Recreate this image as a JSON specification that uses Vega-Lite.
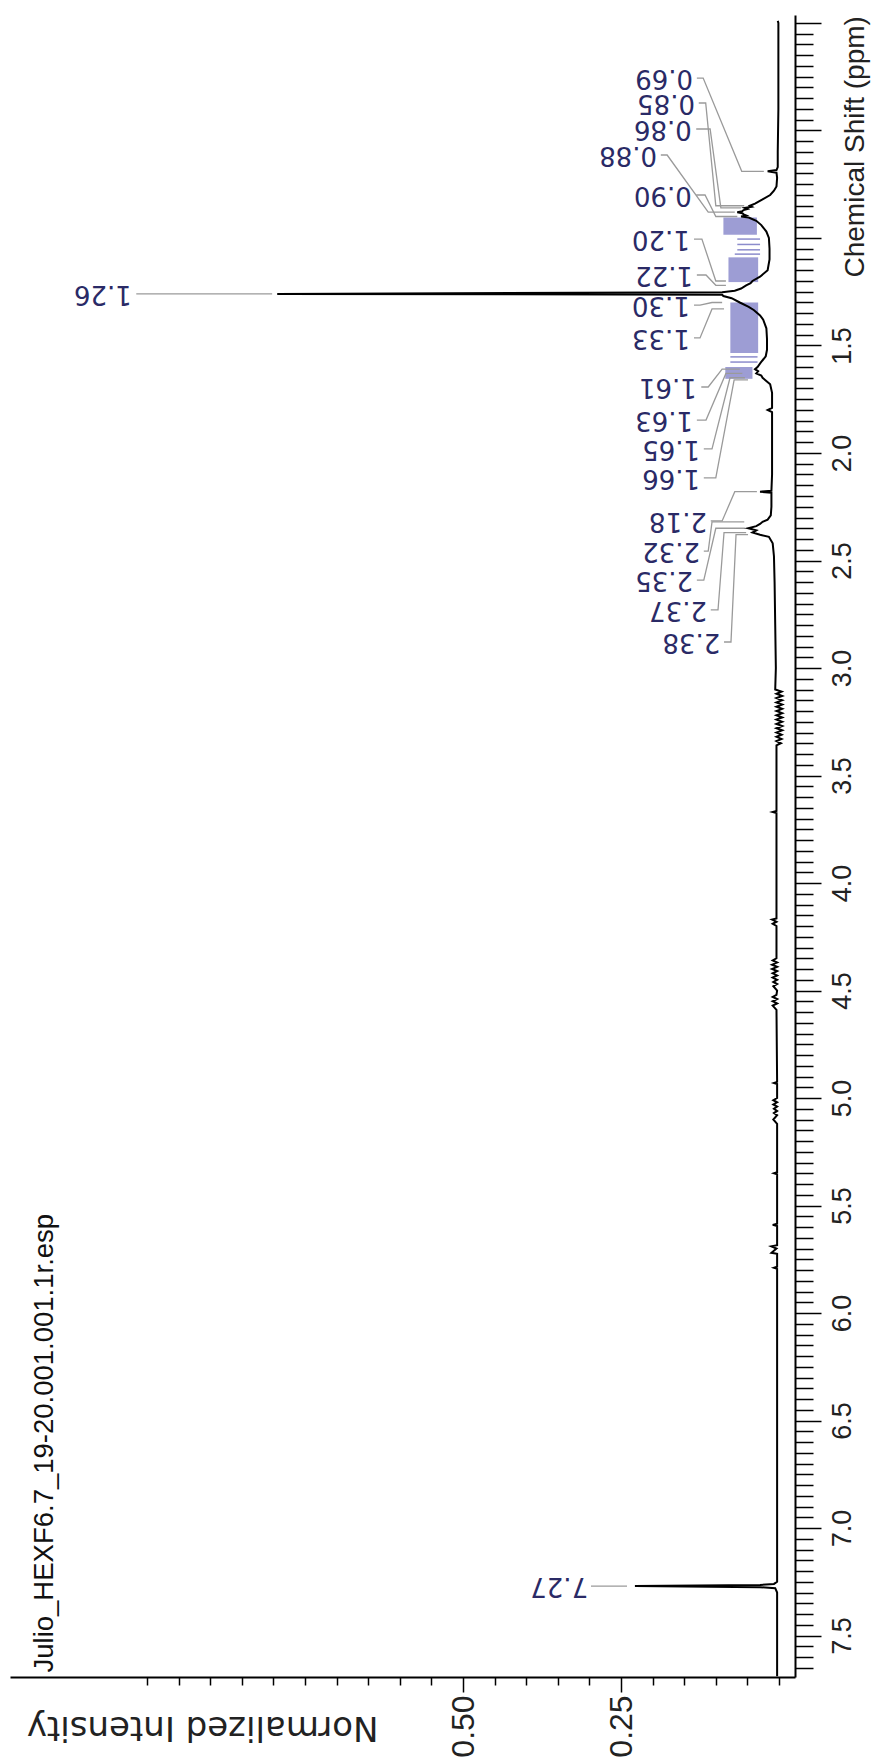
{
  "$schema": "https://vega.github.io/schema/vega-lite/v6.json",
  "width": 785,
  "height": 1662,
  "autosize": {"type": "none"},
  "padding": {"left": 10, "top": 15, "right": 77, "bottom": 83},
  "background": "white",
  "config": {"view": {"stroke": null}, "axis": {"grid": false}},
  "datasets": {
    "spectrum": [
      {"shift": -0.01, "intensity": 0.002}, {"shift": 0.0, "intensity": 0.001}, {"shift": 0.2, "intensity": 0.001},
      {"shift": 0.4, "intensity": 0.001}, {"shift": 0.6, "intensity": 0.002}, {"shift": 0.67, "intensity": 0.002},
      {"shift": 0.684, "intensity": 0.004}, {"shift": 0.69, "intensity": 0.018}, {"shift": 0.696, "intensity": 0.004},
      {"shift": 0.72, "intensity": 0.003}, {"shift": 0.76, "intensity": 0.004}, {"shift": 0.78, "intensity": 0.008},
      {"shift": 0.8, "intensity": 0.014}, {"shift": 0.82, "intensity": 0.026}, {"shift": 0.84, "intensity": 0.038},
      {"shift": 0.85, "intensity": 0.046}, {"shift": 0.855, "intensity": 0.043}, {"shift": 0.86, "intensity": 0.054},
      {"shift": 0.865, "intensity": 0.05}, {"shift": 0.87, "intensity": 0.056}, {"shift": 0.875, "intensity": 0.058},
      {"shift": 0.88, "intensity": 0.066}, {"shift": 0.885, "intensity": 0.058}, {"shift": 0.89, "intensity": 0.056},
      {"shift": 0.895, "intensity": 0.052}, {"shift": 0.9, "intensity": 0.06}, {"shift": 0.905, "intensity": 0.048},
      {"shift": 0.92, "intensity": 0.036}, {"shift": 0.94, "intensity": 0.028}, {"shift": 0.97, "intensity": 0.02},
      {"shift": 1.0, "intensity": 0.016}, {"shift": 1.05, "intensity": 0.015}, {"shift": 1.1, "intensity": 0.015},
      {"shift": 1.15, "intensity": 0.018}, {"shift": 1.18, "intensity": 0.03}, {"shift": 1.2, "intensity": 0.042},
      {"shift": 1.21, "intensity": 0.045}, {"shift": 1.22, "intensity": 0.052}, {"shift": 1.235, "intensity": 0.06},
      {"shift": 1.245, "intensity": 0.07}, {"shift": 1.252, "intensity": 0.09}, {"shift": 1.26, "intensity": 0.794},
      {"shift": 1.264, "intensity": 0.09}, {"shift": 1.27, "intensity": 0.088}, {"shift": 1.28, "intensity": 0.075},
      {"shift": 1.3, "intensity": 0.062}, {"shift": 1.32, "intensity": 0.048}, {"shift": 1.335, "intensity": 0.04},
      {"shift": 1.36, "intensity": 0.03}, {"shift": 1.38, "intensity": 0.025}, {"shift": 1.42, "intensity": 0.02},
      {"shift": 1.47, "intensity": 0.019}, {"shift": 1.52, "intensity": 0.019}, {"shift": 1.55, "intensity": 0.021},
      {"shift": 1.58, "intensity": 0.029}, {"shift": 1.6, "intensity": 0.034}, {"shift": 1.61, "intensity": 0.038},
      {"shift": 1.62, "intensity": 0.033}, {"shift": 1.63, "intensity": 0.036}, {"shift": 1.64, "intensity": 0.028},
      {"shift": 1.65, "intensity": 0.026}, {"shift": 1.66, "intensity": 0.022}, {"shift": 1.68, "intensity": 0.014},
      {"shift": 1.72, "intensity": 0.011}, {"shift": 1.79, "intensity": 0.011}, {"shift": 1.8, "intensity": 0.018},
      {"shift": 1.81, "intensity": 0.011}, {"shift": 1.9, "intensity": 0.011}, {"shift": 2.0, "intensity": 0.011},
      {"shift": 2.1, "intensity": 0.011}, {"shift": 2.175, "intensity": 0.012}, {"shift": 2.18, "intensity": 0.03},
      {"shift": 2.185, "intensity": 0.012}, {"shift": 2.25, "intensity": 0.012}, {"shift": 2.29, "intensity": 0.013},
      {"shift": 2.31, "intensity": 0.018}, {"shift": 2.32, "intensity": 0.026}, {"shift": 2.33, "intensity": 0.03},
      {"shift": 2.34, "intensity": 0.036}, {"shift": 2.35, "intensity": 0.049}, {"shift": 2.36, "intensity": 0.036},
      {"shift": 2.37, "intensity": 0.042}, {"shift": 2.38, "intensity": 0.03}, {"shift": 2.39, "intensity": 0.016},
      {"shift": 2.42, "intensity": 0.01}, {"shift": 2.48, "intensity": 0.008}, {"shift": 2.6, "intensity": 0.007},
      {"shift": 2.8, "intensity": 0.006}, {"shift": 3.0, "intensity": 0.005}, {"shift": 3.1, "intensity": 0.006},
      {"shift": 3.11, "intensity": -0.004}, {"shift": 3.12, "intensity": 0.004}, {"shift": 3.13, "intensity": -0.005},
      {"shift": 3.14, "intensity": 0.004}, {"shift": 3.15, "intensity": -0.005}, {"shift": 3.16, "intensity": 0.004},
      {"shift": 3.17, "intensity": -0.005}, {"shift": 3.18, "intensity": 0.004}, {"shift": 3.19, "intensity": -0.005},
      {"shift": 3.2, "intensity": 0.004}, {"shift": 3.21, "intensity": -0.005}, {"shift": 3.22, "intensity": 0.004},
      {"shift": 3.23, "intensity": -0.005}, {"shift": 3.24, "intensity": 0.004}, {"shift": 3.25, "intensity": -0.005},
      {"shift": 3.26, "intensity": 0.004}, {"shift": 3.27, "intensity": -0.005}, {"shift": 3.28, "intensity": 0.004},
      {"shift": 3.29, "intensity": -0.005}, {"shift": 3.3, "intensity": 0.004}, {"shift": 3.31, "intensity": -0.004},
      {"shift": 3.32, "intensity": 0.004}, {"shift": 3.33, "intensity": -0.004}, {"shift": 3.34, "intensity": 0.004},
      {"shift": 3.35, "intensity": -0.003}, {"shift": 3.36, "intensity": 0.004}, {"shift": 3.6, "intensity": 0.004},
      {"shift": 3.665, "intensity": 0.004}, {"shift": 3.67, "intensity": 0.01}, {"shift": 3.675, "intensity": 0.004},
      {"shift": 4.165, "intensity": 0.004}, {"shift": 4.17, "intensity": 0.011}, {"shift": 4.18, "intensity": 0.004},
      {"shift": 4.19, "intensity": 0.01}, {"shift": 4.2, "intensity": 0.004}, {"shift": 4.35, "intensity": 0.004},
      {"shift": 4.36, "intensity": 0.01}, {"shift": 4.37, "intensity": 0.003}, {"shift": 4.38, "intensity": 0.011},
      {"shift": 4.39, "intensity": 0.003}, {"shift": 4.4, "intensity": 0.011}, {"shift": 4.41, "intensity": 0.003},
      {"shift": 4.42, "intensity": 0.01}, {"shift": 4.43, "intensity": 0.003}, {"shift": 4.44, "intensity": 0.01},
      {"shift": 4.45, "intensity": 0.003}, {"shift": 4.46, "intensity": 0.009}, {"shift": 4.47, "intensity": 0.003},
      {"shift": 4.48, "intensity": 0.009}, {"shift": 4.5, "intensity": 0.003}, {"shift": 4.52, "intensity": 0.004},
      {"shift": 4.53, "intensity": 0.01}, {"shift": 4.54, "intensity": 0.003}, {"shift": 4.55, "intensity": 0.01},
      {"shift": 4.56, "intensity": 0.003}, {"shift": 4.57, "intensity": 0.01}, {"shift": 4.59, "intensity": 0.004},
      {"shift": 4.925, "intensity": 0.003}, {"shift": 4.93, "intensity": 0.008}, {"shift": 4.935, "intensity": 0.003},
      {"shift": 5.0, "intensity": 0.003}, {"shift": 5.01, "intensity": 0.009}, {"shift": 5.02, "intensity": 0.003},
      {"shift": 5.03, "intensity": 0.009}, {"shift": 5.04, "intensity": 0.003}, {"shift": 5.05, "intensity": 0.008},
      {"shift": 5.06, "intensity": 0.003}, {"shift": 5.07, "intensity": 0.008}, {"shift": 5.08, "intensity": 0.003},
      {"shift": 5.1, "intensity": 0.009}, {"shift": 5.12, "intensity": 0.003}, {"shift": 5.345, "intensity": 0.003},
      {"shift": 5.35, "intensity": 0.008}, {"shift": 5.355, "intensity": 0.003}, {"shift": 5.585, "intensity": 0.003},
      {"shift": 5.59, "intensity": 0.01}, {"shift": 5.595, "intensity": 0.003}, {"shift": 5.685, "intensity": 0.003},
      {"shift": 5.69, "intensity": 0.012}, {"shift": 5.7, "intensity": 0.004}, {"shift": 5.72, "intensity": 0.012},
      {"shift": 5.725, "intensity": 0.003}, {"shift": 5.785, "intensity": 0.003}, {"shift": 5.79, "intensity": 0.008},
      {"shift": 5.795, "intensity": 0.003}, {"shift": 6.5, "intensity": 0.003}, {"shift": 7.25, "intensity": 0.003},
      {"shift": 7.26, "intensity": 0.008}, {"shift": 7.265, "intensity": 0.03}, {"shift": 7.27, "intensity": 0.228},
      {"shift": 7.275, "intensity": 0.03}, {"shift": 7.28, "intensity": 0.006}, {"shift": 7.3, "intensity": 0.003},
      {"shift": 7.69, "intensity": 0.003}
    ],
    "peaks": [
      {"peak": "0.69", "shift": 0.256, "intensity": 0.136},
      {"peak": "0.85", "shift": 0.372, "intensity": 0.133},
      {"peak": "0.86", "shift": 0.493, "intensity": 0.138},
      {"peak": "0.88", "shift": 0.614, "intensity": 0.193},
      {"peak": "0.90", "shift": 0.8, "intensity": 0.138},
      {"peak": "1.20", "shift": 1.005, "intensity": 0.141},
      {"peak": "1.22", "shift": 1.172, "intensity": 0.136},
      {"peak": "1.26", "shift": 1.26, "intensity": 1.024},
      {"peak": "1.30", "shift": 1.312, "intensity": 0.141},
      {"peak": "1.33", "shift": 1.465, "intensity": 0.141},
      {"peak": "1.61", "shift": 1.693, "intensity": 0.13},
      {"peak": "1.63", "shift": 1.847, "intensity": 0.136},
      {"peak": "1.65", "shift": 1.981, "intensity": 0.125},
      {"peak": "1.66", "shift": 2.116, "intensity": 0.125},
      {"peak": "2.18", "shift": 2.316, "intensity": 0.114},
      {"peak": "2.32", "shift": 2.456, "intensity": 0.125},
      {"peak": "2.35", "shift": 2.591, "intensity": 0.136},
      {"peak": "2.37", "shift": 2.73, "intensity": 0.114},
      {"peak": "2.38", "shift": 2.879, "intensity": 0.093},
      {"peak": "7.27", "shift": 7.27, "intensity": 0.302}
    ],
    "leaders": [
      {"peak": "0.69", "step": 1, "shift": 0.256, "intensity": 0.13},
      {"peak": "0.69", "step": 2, "shift": 0.256, "intensity": 0.12},
      {"peak": "0.69", "step": 3, "shift": 0.69, "intensity": 0.059},
      {"peak": "0.69", "step": 4, "shift": 0.69, "intensity": 0.024},
      {"peak": "0.85", "step": 1, "shift": 0.372, "intensity": 0.127},
      {"peak": "0.85", "step": 2, "shift": 0.372, "intensity": 0.116},
      {"peak": "0.85", "step": 3, "shift": 0.85, "intensity": 0.1},
      {"peak": "0.85", "step": 4, "shift": 0.85, "intensity": 0.055},
      {"peak": "0.86", "step": 1, "shift": 0.493, "intensity": 0.131},
      {"peak": "0.86", "step": 2, "shift": 0.493, "intensity": 0.109},
      {"peak": "0.86", "step": 3, "shift": 0.86, "intensity": 0.092},
      {"peak": "0.86", "step": 4, "shift": 0.86, "intensity": 0.06},
      {"peak": "0.88", "step": 1, "shift": 0.614, "intensity": 0.187},
      {"peak": "0.88", "step": 2, "shift": 0.614, "intensity": 0.177},
      {"peak": "0.88", "step": 3, "shift": 0.88, "intensity": 0.112},
      {"peak": "0.88", "step": 4, "shift": 0.88, "intensity": 0.07},
      {"peak": "0.90", "step": 1, "shift": 0.8, "intensity": 0.131},
      {"peak": "0.90", "step": 2, "shift": 0.8, "intensity": 0.117},
      {"peak": "0.90", "step": 3, "shift": 0.9, "intensity": 0.1},
      {"peak": "0.90", "step": 4, "shift": 0.9, "intensity": 0.066},
      {"peak": "1.20", "step": 1, "shift": 1.005, "intensity": 0.1345},
      {"peak": "1.20", "step": 2, "shift": 1.005, "intensity": 0.122},
      {"peak": "1.20", "step": 3, "shift": 1.2, "intensity": 0.1},
      {"peak": "1.20", "step": 4, "shift": 1.2, "intensity": 0.084},
      {"peak": "1.22", "step": 1, "shift": 1.172, "intensity": 0.13},
      {"peak": "1.22", "step": 2, "shift": 1.172, "intensity": 0.1155},
      {"peak": "1.22", "step": 3, "shift": 1.22, "intensity": 0.1},
      {"peak": "1.22", "step": 4, "shift": 1.22, "intensity": 0.084},
      {"peak": "1.26", "step": 1, "shift": 1.26, "intensity": 1.017},
      {"peak": "1.26", "step": 2, "shift": 1.26, "intensity": 0.802},
      {"peak": "1.30", "step": 1, "shift": 1.312, "intensity": 0.1345},
      {"peak": "1.30", "step": 2, "shift": 1.312, "intensity": 0.125},
      {"peak": "1.30", "step": 3, "shift": 1.3, "intensity": 0.106},
      {"peak": "1.30", "step": 4, "shift": 1.3, "intensity": 0.09},
      {"peak": "1.33", "step": 1, "shift": 1.465, "intensity": 0.1345},
      {"peak": "1.33", "step": 2, "shift": 1.465, "intensity": 0.125},
      {"peak": "1.33", "step": 3, "shift": 1.33, "intensity": 0.106},
      {"peak": "1.33", "step": 4, "shift": 1.33, "intensity": 0.087},
      {"peak": "1.61", "step": 1, "shift": 1.693, "intensity": 0.123},
      {"peak": "1.61", "step": 2, "shift": 1.693, "intensity": 0.112},
      {"peak": "1.61", "step": 3, "shift": 1.61, "intensity": 0.09},
      {"peak": "1.61", "step": 4, "shift": 1.61, "intensity": 0.062},
      {"peak": "1.63", "step": 1, "shift": 1.847, "intensity": 0.13},
      {"peak": "1.63", "step": 2, "shift": 1.847, "intensity": 0.1155},
      {"peak": "1.63", "step": 3, "shift": 1.63, "intensity": 0.084},
      {"peak": "1.63", "step": 4, "shift": 1.63, "intensity": 0.058},
      {"peak": "1.65", "step": 1, "shift": 1.981, "intensity": 0.119},
      {"peak": "1.65", "step": 2, "shift": 1.981, "intensity": 0.106},
      {"peak": "1.65", "step": 3, "shift": 1.65, "intensity": 0.0775},
      {"peak": "1.65", "step": 4, "shift": 1.65, "intensity": 0.054},
      {"peak": "1.66", "step": 1, "shift": 2.116, "intensity": 0.119},
      {"peak": "1.66", "step": 2, "shift": 2.116, "intensity": 0.1},
      {"peak": "1.66", "step": 3, "shift": 1.66, "intensity": 0.071},
      {"peak": "1.66", "step": 4, "shift": 1.66, "intensity": 0.049},
      {"peak": "2.18", "step": 1, "shift": 2.316, "intensity": 0.108},
      {"peak": "2.18", "step": 2, "shift": 2.316, "intensity": 0.09},
      {"peak": "2.18", "step": 3, "shift": 2.18, "intensity": 0.07},
      {"peak": "2.18", "step": 4, "shift": 2.18, "intensity": 0.035},
      {"peak": "2.32", "step": 1, "shift": 2.456, "intensity": 0.119},
      {"peak": "2.32", "step": 2, "shift": 2.456, "intensity": 0.112},
      {"peak": "2.32", "step": 3, "shift": 2.32, "intensity": 0.106},
      {"peak": "2.32", "step": 4, "shift": 2.32, "intensity": 0.055},
      {"peak": "2.35", "step": 1, "shift": 2.591, "intensity": 0.13},
      {"peak": "2.35", "step": 2, "shift": 2.591, "intensity": 0.119},
      {"peak": "2.35", "step": 3, "shift": 2.35, "intensity": 0.1},
      {"peak": "2.35", "step": 4, "shift": 2.35, "intensity": 0.054},
      {"peak": "2.37", "step": 1, "shift": 2.73, "intensity": 0.108},
      {"peak": "2.37", "step": 2, "shift": 2.73, "intensity": 0.0965},
      {"peak": "2.37", "step": 3, "shift": 2.37, "intensity": 0.087},
      {"peak": "2.37", "step": 4, "shift": 2.37, "intensity": 0.052},
      {"peak": "2.38", "step": 1, "shift": 2.879, "intensity": 0.087},
      {"peak": "2.38", "step": 2, "shift": 2.879, "intensity": 0.076},
      {"peak": "2.38", "step": 3, "shift": 2.38, "intensity": 0.068},
      {"peak": "2.38", "step": 4, "shift": 2.38, "intensity": 0.049},
      {"peak": "7.27", "step": 1, "shift": 7.27, "intensity": 0.2975},
      {"peak": "7.27", "step": 2, "shift": 7.27, "intensity": 0.2405}
    ],
    "multiplets": [
      {"shift": 0.905, "shift_end": 0.985, "intensity": 0.035, "intensity_end": 0.088},
      {"shift": 1.09, "shift_end": 1.205, "intensity": 0.033, "intensity_end": 0.08},
      {"shift": 1.3, "shift_end": 1.535, "intensity": 0.033, "intensity_end": 0.077},
      {"shift": 1.6, "shift_end": 1.655, "intensity": 0.042, "intensity_end": 0.085}
    ],
    "multiplet_lines": [
      {"shift": 1.005, "intensity": 0.03, "intensity_end": 0.066},
      {"shift": 1.03, "intensity": 0.03, "intensity_end": 0.066},
      {"shift": 1.055, "intensity": 0.03, "intensity_end": 0.066},
      {"shift": 1.075, "intensity": 0.03, "intensity_end": 0.07},
      {"shift": 1.553, "intensity": 0.034, "intensity_end": 0.077},
      {"shift": 1.577, "intensity": 0.034, "intensity_end": 0.077}
    ],
    "caption": [
      {"file": "Julio_HEXF6.7_19-20.001.001.1r.esp", "shift": 7.672, "intensity": 1.1614}
    ]
  },
  "encoding": {
    "x": {
      "field": "intensity",
      "type": "quantitative",
      "scale": {"domain": [-0.0253, 1.2168], "reverse": true, "nice": false, "zero": false},
      "axis": {
        "orient": "bottom",
        "values": [0, 0.05, 0.1, 0.15, 0.2, 0.25, 0.3, 0.35, 0.4, 0.45, 0.5, 0.55, 0.6, 0.65, 0.7, 0.75, 0.8, 0.85, 0.9, 0.95, 1],
        "tickSize": {"condition": {"test": "datum.value == 0.25 || datum.value == 0.5", "value": 15}, "value": 8},
        "tickColor": "#000",
        "tickWidth": 1.5,
        "domainColor": "#000",
        "domainWidth": 2,
        "labelExpr": "(datum.value == 0.25 || datum.value == 0.5) ? format(datum.value, '.2f') : ''",
        "labelAngle": 270,
        "labelAlign": "center",
        "labelBaseline": "middle",
        "labelPadding": 34,
        "labelFont": "Liberation Sans Narrow, Liberation Sans, sans-serif",
        "labelFontSize": 32,
        "labelColor": "#222",
        "labelOverlap": false,
        "labelFlush": false,
        "title": "Normalized Intensity",
        "titleAngle": 180,
        "titleAlign": "left",
        "titleBaseline": "middle",
        "titleX": 368,
        "titleY": 49,
        "titleFont": "DejaVu Sans",
        "titleFontSize": 34,
        "titleFontWeight": "normal",
        "titleColor": "#222"
      }
    },
    "y": {
      "field": "shift",
      "type": "quantitative",
      "scale": {"domain": [-0.0372, 7.693], "reverse": true, "nice": false, "zero": false},
      "axis": {
        "orient": "right",
        "values": [0, 0.05, 0.1, 0.15, 0.2, 0.25, 0.3, 0.35, 0.4, 0.45, 0.5, 0.55, 0.6, 0.65, 0.7, 0.75, 0.8, 0.85, 0.9, 0.95, 1, 1.05, 1.1, 1.15, 1.2, 1.25, 1.3, 1.35, 1.4, 1.45, 1.5, 1.55, 1.6, 1.65, 1.7, 1.75, 1.8, 1.85, 1.9, 1.95, 2, 2.05, 2.1, 2.15, 2.2, 2.25, 2.3, 2.35, 2.4, 2.45, 2.5, 2.55, 2.6, 2.65, 2.7, 2.75, 2.8, 2.85, 2.9, 2.95, 3, 3.05, 3.1, 3.15, 3.2, 3.25, 3.3, 3.35, 3.4, 3.45, 3.5, 3.55, 3.6, 3.65, 3.7, 3.75, 3.8, 3.85, 3.9, 3.95, 4, 4.05, 4.1, 4.15, 4.2, 4.25, 4.3, 4.35, 4.4, 4.45, 4.5, 4.55, 4.6, 4.65, 4.7, 4.75, 4.8, 4.85, 4.9, 4.95, 5, 5.05, 5.1, 5.15, 5.2, 5.25, 5.3, 5.35, 5.4, 5.45, 5.5, 5.55, 5.6, 5.65, 5.7, 5.75, 5.8, 5.85, 5.9, 5.95, 6, 6.05, 6.1, 6.15, 6.2, 6.25, 6.3, 6.35, 6.4, 6.45, 6.5, 6.55, 6.6, 6.65, 6.7, 6.75, 6.8, 6.85, 6.9, 6.95, 7, 7.05, 7.1, 7.15, 7.2, 7.25, 7.3, 7.35, 7.4, 7.45, 7.5, 7.55, 7.6, 7.65],
        "tickSize": {"condition": {"test": "abs(datum.value * 2 - round(datum.value * 2)) < 0.001", "value": 26}, "value": 18},
        "tickColor": "#000",
        "tickWidth": 1.5,
        "domainColor": "#000",
        "domainWidth": 2,
        "labelExpr": "(abs(datum.value * 2 - round(datum.value * 2)) < 0.001 && datum.value > 1.2) ? format(datum.value, '.1f') : ''",
        "labelAngle": 270,
        "labelAlign": "center",
        "labelBaseline": "middle",
        "labelPadding": 21,
        "labelFont": "Liberation Sans Narrow, Liberation Sans, sans-serif",
        "labelFontSize": 27,
        "labelColor": "#222",
        "labelOverlap": false,
        "labelFlush": false,
        "title": "Chemical Shift (ppm)",
        "titleAngle": 270,
        "titleAlign": "left",
        "titleBaseline": "middle",
        "titleX": 60,
        "titleY": 262,
        "titleFont": "Liberation Sans",
        "titleFontSize": 28,
        "titleFontWeight": "normal",
        "titleColor": "#222"
      }
    }
  },
  "layer": [
    {
      "data": {"name": "multiplets"},
      "mark": {"type": "rect", "color": "#8c8ccc", "opacity": 0.85},
      "encoding": {
        "x2": {"field": "intensity_end"},
        "y2": {"field": "shift_end"}
      }
    },
    {
      "data": {"name": "multiplet_lines"},
      "mark": {"type": "rule", "color": "#8c8ccc", "strokeWidth": 1.5},
      "encoding": {
        "x2": {"field": "intensity_end"}
      }
    },
    {
      "data": {"name": "leaders"},
      "mark": {"type": "line", "color": "#9a9a9a", "strokeWidth": 1.3},
      "encoding": {
        "detail": {"field": "peak", "type": "nominal"},
        "order": {"field": "step", "type": "quantitative"}
      }
    },
    {
      "data": {"name": "spectrum"},
      "mark": {"type": "line", "color": "#000", "strokeWidth": 2},
      "encoding": {
        "order": {"field": "shift", "type": "quantitative"}
      }
    },
    {
      "data": {"name": "peaks"},
      "mark": {"type": "text", "angle": 180, "align": "left", "baseline": "middle", "font": "DejaVu Sans", "fontSize": 26, "color": "#2a2a66"},
      "encoding": {
        "text": {"field": "peak", "type": "nominal"}
      }
    },
    {
      "data": {"name": "caption"},
      "mark": {"type": "text", "angle": 270, "align": "left", "baseline": "middle", "font": "Liberation Sans", "fontSize": 27.5, "color": "#111"},
      "encoding": {
        "text": {"field": "file", "type": "nominal"}
      }
    }
  ]
}
